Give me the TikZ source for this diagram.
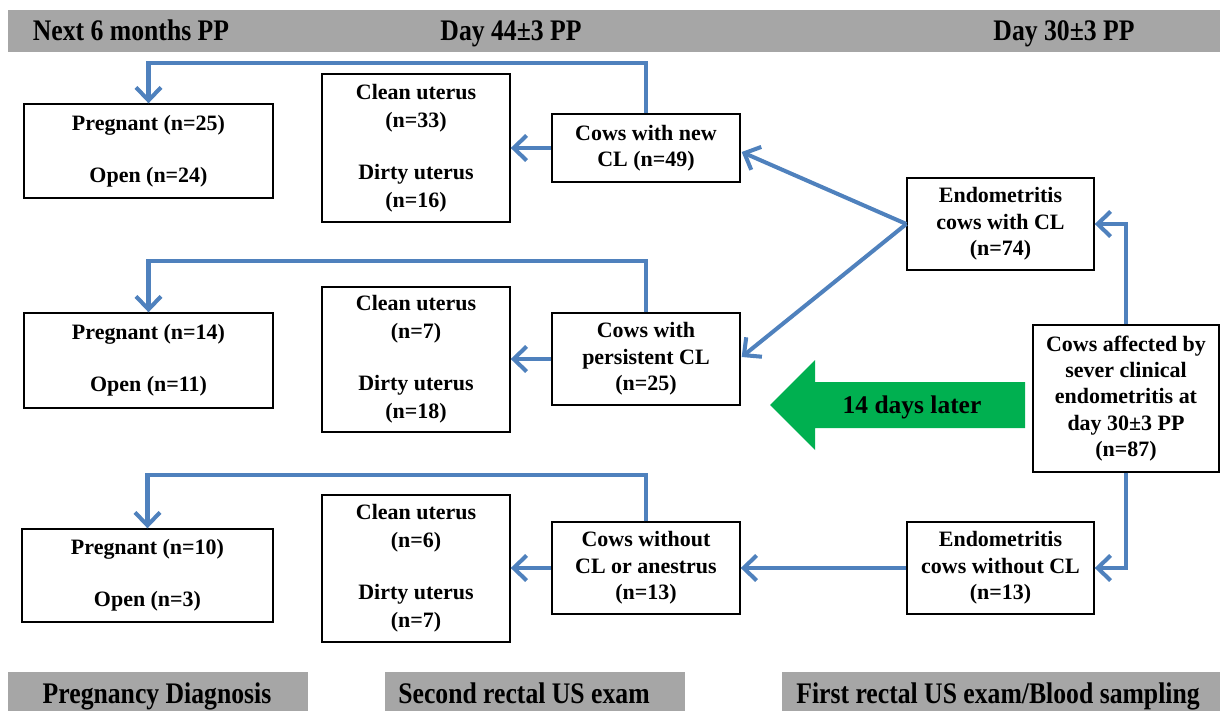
\documentclass[tikz,border=0pt]{standalone}
\usepackage{fontspec}
\setmainfont{Liberation Serif}
\newfontfamily\bannerfont[FakeStretch=0.86]{Liberation Serif}
\usetikzlibrary{arrows.meta,calc}
\definecolor{bannergray}{HTML}{A6A6A6}
\definecolor{linkblue}{HTML}{4F81BD}
\definecolor{arrowgreen}{HTML}{00B050}
\tikzset{
  box/.style={draw=black, line width=0.8pt, inner sep=0pt, align=center,
    font=\bfseries\fontsize{12.5}{15}\selectfont},
  cbox/.style={box, font=\bfseries\fontsize{12.5}{15.9}\selectfont},
  banner/.style={fill=bannergray, draw=none},
  bannertext/.style={font=\bannerfont\bfseries\fontsize{17}{19}\selectfont, inner sep=0pt, anchor=base},
  link/.style={draw=linkblue, line width=2.3pt, line join=miter,
    -{Straight Barb[length=0.26cm,width=0.5cm,line width=2.3pt]}},
}
\begin{document}
\begin{tikzpicture}[x=0.02cm,y=-0.02cm]
\useasboundingbox (0,0) rectangle (1220,710);
% banners
\fill[banner] (8,10) rectangle (1220,52);
\fill[banner] (8,672) rectangle (308,712);
\fill[banner] (385,672) rectangle (685,712);
\fill[banner] (782,672) rectangle (1220,712);
\node[bannertext] (t1) at (131,40) {Next 6 months PP};
\node[bannertext] (t2) at (511,40) {Day 44\textpm3 PP};
\node[bannertext] (t3) at (1064,40) {Day 30\textpm3 PP};
\node[bannertext] (b1) at (157,703) {Pregnancy Diagnosis};
\node[bannertext] (b2) at (524,703) {Second rectal US exam};
\node[bannertext] (b3) at (998,703) {First rectal US exam/Blood sampling};
% boxes row 1
\node[box, minimum width=4.98cm, minimum height=1.88cm] (P1) at (148.5,151) {Pregnant (n=25)\\[14.5pt]Open (n=24)};
\node[cbox, minimum width=3.76cm, minimum height=2.96cm] (C1) at (416,148) {Clean uterus\\(n=33)\\[13.6pt]Dirty uterus\\(n=16)};
\node[box, minimum width=3.76cm, minimum height=1.36cm] (N1) at (646,148) {Cows with new\\CL (n=49)};
\node[box, minimum width=3.74cm, minimum height=1.84cm] (E1) at (1000.5,224) {Endometritis\\cows with CL\\(n=74)};
% row 2
\node[box, minimum width=4.98cm, minimum height=1.9cm] (P2) at (148.5,360.5) {Pregnant (n=14)\\[14.5pt]Open (n=11)};
\node[cbox, minimum width=3.76cm, minimum height=2.9cm] (C2) at (416,359.5) {Clean uterus\\(n=7)\\[13.6pt]Dirty uterus\\(n=18)};
\node[box, minimum width=3.76cm, minimum height=1.84cm] (N2) at (646,359) {Cows with\\persistent CL\\(n=25)};
\node[box, minimum width=3.72cm, minimum height=2.94cm] (M) at (1126,398.5) {Cows affected by\\sever clinical\\endometritis at\\day 30\textpm3 PP\\(n=87)};
% row 3
\node[box, minimum width=5.02cm, minimum height=1.86cm] (P3) at (147.5,575.5) {Pregnant (n=10)\\[14.5pt]Open (n=3)};
\node[cbox, minimum width=3.76cm, minimum height=2.94cm] (C3) at (416,568.5) {Clean uterus\\(n=6)\\[13.6pt]Dirty uterus\\(n=7)};
\node[box, minimum width=3.76cm, minimum height=1.84cm] (N3) at (646,568) {Cows without\\CL or anestrus\\(n=13)};
\node[box, minimum width=3.74cm, minimum height=1.84cm] (E2) at (1000.5,568) {Endometritis\\cows without CL\\(n=13)};
% green arrow
\fill[arrowgreen] (1025,382) -- (815,382) -- (815,360) -- (770,405) -- (815,450) -- (815,428) -- (1025,428) -- cycle;
\node[font=\bfseries\fontsize{14.5}{16}\selectfont, inner sep=0pt] (G) at (912,407) {14 days later};
% connectors
\draw[link] (N1.north) -- ++(0,-50) -| (P1.north);
\draw[link] (N2.north) -- ++(0,-51) -| (P2.north);
\draw[link] (N3.north) -- ++(0,-46) -| (P3.north);
\draw[link] (N1.west) -- (C1.east |- N1.west);
\draw[link] (N2.west) -- (C2.east |- N2.west);
\draw[link] (N3.west) -- (C3.east |- N3.west);
\draw[link] (E1.west) -- ($(N1.east)+(1,4)$);
\draw[link] (E1.west) -- ($(N2.east)+(1,-2)$);
\draw[link] (E2.west) -- (N3.east);
\draw[link] (M.north) |- (E1.east);
\draw[link] (M.south) |- (E2.east);
\end{tikzpicture}
\end{document}
